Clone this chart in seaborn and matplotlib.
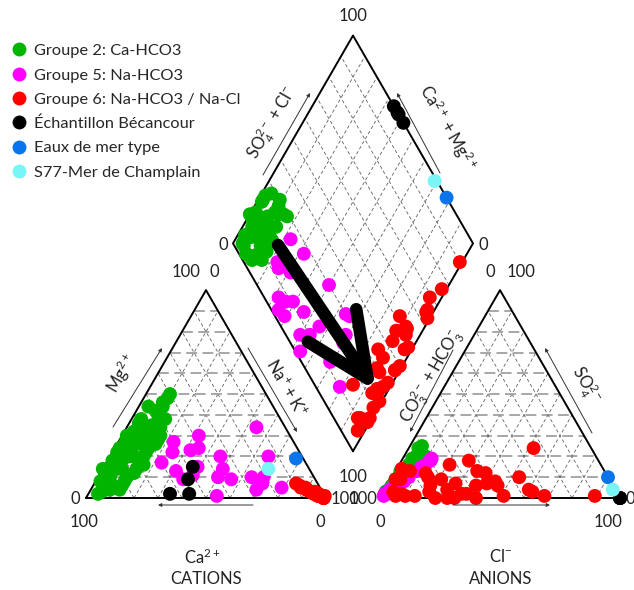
import numpy as np
import pandas as pd
import matplotlib
matplotlib.use('Agg')
import matplotlib.pyplot as plt
import seaborn as sns

# groupes de la legende
groupes = ['Groupe 2: Ca-HCO3', 'Groupe 5: Na-HCO3', 'Groupe 6: Na-HCO3 / Na-Cl',
           'Échantillon Bécancour', 'Eaux de mer type', 'S77-Mer de Champlain']
couleurs = ['#00b400', '#ff00ff', '#ff0000', '#000000', '#0a74ea', '#7af5f5']

# % meq/L : Ca, Mg (Na+K = reste) ; SO4, Cl (CO3+HCO3 = reste)
g2_ca = [88, 85, 80, 76, 72, 70, 66, 62, 58, 55, 50, 46, 42, 45, 60, 68, 74, 78, 82, 90,
         64, 56, 52, 60, 70, 76, 80, 68, 48, 54, 62, 72, 84, 66, 58, 50, 40, 74, 64, 86,
         92, 94, 88, 86, 90, 80, 84, 78, 70, 62, 58, 52]
g2_mg = [8, 10, 14, 18, 20, 24, 26, 30, 32, 35, 40, 44, 48, 46, 28, 16, 12, 10, 6, 4,
         22, 28, 34, 36, 27, 22, 18, 30, 38, 30, 24, 14, 12, 20, 26, 42, 50, 24, 32, 14,
         3, 2, 4, 6, 8, 8, 4, 14, 20, 26, 38, 44]
g2_so4 = [5, 8, 10, 6, 12, 9, 15, 8, 11, 18, 14, 20, 10, 25, 4, 6, 16, 3, 12, 7,
          22, 13, 6, 9, 5, 10, 14, 17, 8, 20, 11, 8, 4, 13, 7, 16, 12, 19, 3, 9,
          3, 6, 2, 15, 20, 4, 9, 2, 3, 18, 24, 6]
g2_cl = [2, 3, 4, 3, 5, 2, 6, 4, 3, 7, 5, 8, 3, 5, 2, 2, 6, 1, 5, 3,
         6, 4, 2, 3, 2, 4, 3, 5, 4, 9, 6, 3, 2, 2, 5, 4, 6, 4, 1, 5,
         1, 2, 1, 4, 5, 2, 2, 1, 1, 8, 4, 2]

g5_ca = [60, 50, 53, 45, 38, 56, 41, 55, 46, 50, 34, 36, 40, 45, 35, 26, 12, 14, 21, 23, 27, 16]
g5_mg = [17, 27, 22, 23, 30, 13, 24, 9, 15, 11, 20, 14, 10, 1, 9, 10, 34, 20, 10, 7, 4, 5]
g5_so4 = [8, 15, 9, 4, 16, 10, 2, 5, 2, 7, 8, 18, 4, 1, 10, 18, 6, 19, 7, 13, 15, 6]
g5_cl = [6, 10, 4, 2, 11, 7, 1, 3, 2, 4, 5, 12, 2, 1, 6, 12, 4, 12, 5, 9, 10, 4]

g6_ca = [1, 1, 3, 2, 0, 5, 8, 4, 1, 6, 6, 1, 1, 8, 1, 6, 2, 3, 1, 3, 1, 9, 1, 3, 2, 2, 2,
         2, 4, 1, 5, 2, 3, 6, 2, 4, 1]
g6_mg = [0, 1, 2, 1, 1, 3, 5, 2, 1, 5, 4, 0, 1, 6, 1, 4, 1, 2, 0, 3, 1, 7, 0, 2, 1, 1, 1,
         1, 3, 1, 3, 2, 1, 4, 1, 2, 0]
g6_so4 = [1, 24, 1, 4, 10, 1, 6, 12, 7, 13, 6, 0, 16, 7, 0, 9, 0, 12, 0, 3, 13, 14, 9, 1, 9, 1, 3,
          3, 8, 2, 4, 6, 10, 2, 18, 2, 1]
g6_cl = [89, 52, 68, 60, 53, 51, 46, 38, 41, 34, 37, 40, 21, 28, 31, 21, 28, 13, 23, 19, 6, 2, 4, 10, 2, 6, 4,
         62, 44, 35, 26, 18, 15, 33, 28, 8, 14]

bec_ca = [64, 48, 53, 56]
bec_mg = [2, 15, 9, 2]
bec_so4 = [0, 0, 0, 0]
bec_cl = [100, 100, 100, 100]

mer_ca = [3]
mer_mg = [19]
mer_so4 = [10]
mer_cl = [90]

s77_ca = [17]
s77_mg = [14]
s77_so4 = [4]
s77_cl = [95]

# geometrie du diagramme de Piper (pixels)
S = 240.0
X0, Y0 = 86, 498
GAP = 0.225
H = np.sqrt(3) / 2
BU, BV = 1 + GAP / 2, GAP * H


def px(u, v):
    return X0 + S * np.asarray(u, float), Y0 - S * np.asarray(v, float)


def cations(ca, mg):
    ca, mg = np.array(ca) / 100, np.array(mg) / 100
    na = 1 - ca - mg
    return px(na + mg / 2, mg * H)


def anions(so4, cl):
    so4, cl = np.array(so4) / 100, np.array(cl) / 100
    return px(1 + GAP + cl + so4 / 2, so4 * H)


def losange(ca, mg, so4, cl):
    camg = (np.array(ca) + np.array(mg)) / 100
    so4cl = (np.array(so4) + np.array(cl)) / 100
    return px(BU + 0.5 * (so4cl - camg), BV + H * (so4cl + camg))


donnees = [(g2_ca, g2_mg, g2_so4, g2_cl), (g5_ca, g5_mg, g5_so4, g5_cl),
           (g6_ca, g6_mg, g6_so4, g6_cl), (bec_ca, bec_mg, bec_so4, bec_cl),
           (mer_ca, mer_mg, mer_so4, mer_cl), (s77_ca, s77_mg, s77_so4, s77_cl)]

rows = []
for nom, (ca, mg, so4, cl) in zip(groupes, donnees):
    for xs, ys in [cations(ca, mg), anions(so4, cl), losange(ca, mg, so4, cl)]:
        for x, y in zip(xs, ys):
            rows.append((nom, x, y))
df = pd.DataFrame(rows, columns=['groupe', 'x', 'y'])

sns.set_style('white')
plt.rcParams['font.family'] = ['Lato', 'DejaVu Sans']
plt.rcParams['mathtext.default'] = 'regular'

fig = plt.figure(figsize=(6.34, 5.90), dpi=100)
ax = fig.add_axes([0, 0, 1, 1])
ax.set_xlim(0, 634)
ax.set_ylim(590, 0)
ax.axis('off')

# grilles
f = np.arange(1, 10) / 10
gh = dict(color='#a0a0a0', lw=1.3, dashes=(6, 3), zorder=1)
gd = dict(color='#606060', lw=0.6, dashes=(4, 3), zorder=1)
for off in [0, 1 + GAP]:
    for t in f:
        ax.plot(*px([off + t / 2, off + 1 - t / 2], [t * H, t * H]), **gh)
        ax.plot(*px([off + t, off + t + (1 - t) / 2], [0, (1 - t) * H]), **gd)
        ax.plot(*px([off + 1 - t, off + (1 - t) / 2], [0, (1 - t) * H]), **gd)
for t in f:
    ax.plot(*px([BU - t / 2, BU - t / 2 + 0.5], [BV + t * H, BV + t * H + H]), **gd)
    ax.plot(*px([BU + t / 2, BU + t / 2 - 0.5], [BV + t * H, BV + t * H + H]), **gd)

# contours
cont = dict(color='black', lw=1.4, zorder=2)
ax.plot(*px([0, 1, 0.5, 0], [0, 0, H, 0]), **cont)
o = 1 + GAP
ax.plot(*px([o, o + 1, o + 0.5, o], [0, 0, H, 0]), **cont)
ax.plot(*px([BU, BU + 0.5, BU, BU - 0.5, BU], [BV, BV + H, BV + 2 * H, BV + H, BV]), **cont)

# points
sns.scatterplot(data=df, x='x', y='y', hue='groupe', hue_order=groupes, palette=couleurs,
                s=100, linewidth=0, alpha=1, ax=ax, zorder=3, legend=True)
handles, labels = ax.get_legend_handles_labels()
ax.legend(handles, labels, loc='upper left', bbox_to_anchor=(-0.004, 0.937), frameon=False,
          fontsize=11.8, markerscale=1.0, handletextpad=0.0, labelspacing=0.6,
          borderaxespad=0.0, handlelength=1.8)

# fleches des axes
petites = [((113, 427), (162, 348)), ((248, 348), (297, 432)), ((253, 505), (158, 505)),
           ((453, 350), (410, 432)), ((592, 433), (545, 348)), ((453, 505), (550, 505)),
           ((263, 175), (310, 93)), ((440, 173), (397, 93))]
for a, b in petites:
    ax.annotate('', xy=b, xytext=a,
                arrowprops=dict(arrowstyle='-|>', lw=0.7, color='#333333',
                                mutation_scale=5, shrinkA=0, shrinkB=0))

# grosse fleche
ax.annotate('', xy=(376, 391), xytext=(278, 245),
            arrowprops=dict(arrowstyle='->, head_length=4.6, head_width=2.1', lw=9,
                            color='black', mutation_scale=10, shrinkA=0, shrinkB=0,
                            capstyle='round', joinstyle='round'), zorder=5)

# textes des axes
fs = 12
txt = dict(fontsize=fs, ha='center', va='center', color='#222222')
ax.text(122, 373, r'$Mg^{2+}$', rotation=60, **txt)
ax.text(287, 388, r'$Na^{+}+K^{+}$', rotation=-60, **txt)
ax.text(273, 123, r'$SO_4^{2-}+Cl^{-}$', rotation=60, **txt)
ax.text(448, 128, r'$Ca^{2+}+Mg^{2+}$', rotation=-60, **txt)
ax.text(432, 377, r'$CO_3^{2-}+HCO_3^{-}$', rotation=60, **txt)
ax.text(585, 385, r'$SO_4^{2-}$', rotation=-60, **txt)
ax.text(202, 557, r'$Ca^{2+}$', **txt)
ax.text(206, 579, 'CATIONS', **txt)
ax.text(501, 557, r'$Cl^{-}$', **txt)
ax.text(501, 579, 'ANIONS', **txt)

# graduations
graduations = [(353, 16, '100'), (223, 245, '0'), (483, 245, '0'),
               (186, 272, '100'), (214, 272, '0'), (490, 272, '0'), (521, 272, '100'),
               (75, 499, '0'), (84, 522, '100'), (320, 522, '0'), (380, 522, '0'),
               (608, 522, '100'), (353, 477, '100')]
for x, y, s in graduations:
    ax.text(x, y, s, **txt)
ax.text(331, 499, '100', fontsize=fs, ha='left', va='center', color='#222222')
ax.text(377, 499, '100', fontsize=fs, ha='right', va='center', color='#222222')
ax.text(625, 499, '0', fontsize=fs, ha='left', va='center', color='#222222')

fig.savefig('out.png', dpi=100)
